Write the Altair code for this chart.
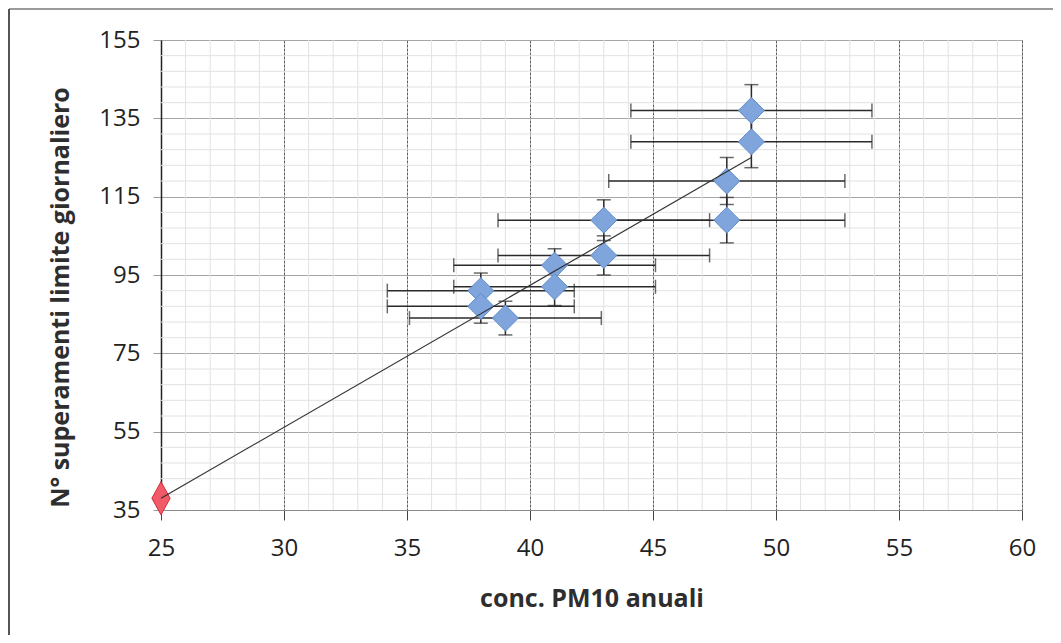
import altair as alt
import pandas as pd

# ---- data ----
x_vals = [49, 49, 48, 48, 43, 43, 41, 41, 38, 38, 39]
y_vals = [137, 129, 119, 109, 109, 100, 97.5, 92, 91, 87, 84]
x_err = [4.9, 4.9, 4.8, 4.8, 4.3, 4.3, 4.1, 4.1, 3.8, 3.8, 3.9]
y_err = [6.6, 6.6, 6.0, 5.8, 5.2, 5.0, 4.2, 4.8, 4.5, 4.3, 4.3]

ref_x = [25]
ref_y = [38]

trend_x = [25, 49]
trend_y = [38, 125]

x_ticks = [25, 30, 35, 40, 45, 50, 55, 60]
y_ticks = [35, 55, 75, 95, 115, 135, 155]
minor_x = [v for v in range(25, 61) if v not in x_ticks]
minor_y = [v for v in range(35, 156, 4) if v not in y_ticks]

X_TITLE = "conc. PM10 anuali"
Y_TITLE = "N° superamenti limite giornaliero"

pts = pd.DataFrame({"x": x_vals, "y": y_vals, "xe": x_err, "ye": y_err})
pts["xlo"] = pts["x"] - pts["xe"]
pts["xhi"] = pts["x"] + pts["xe"]
pts["ylo"] = pts["y"] - pts["ye"]
pts["yhi"] = pts["y"] + pts["ye"]

ref = pd.DataFrame({"x": ref_x, "y": ref_y})
trend = pd.DataFrame({"x": trend_x, "y": trend_y})
mx = pd.DataFrame({"x": minor_x})
my = pd.DataFrame({"y": minor_y})

FONT = "Open Sans"
W, H = 861, 470

xscale = alt.Scale(domain=[25, 60], nice=False, zero=False)
yscale = alt.Scale(domain=[35, 155], nice=False, zero=False)

xaxis = alt.Axis(
    values=x_ticks, grid=True, gridColor="#5e5e5e", gridWidth=1, gridDash=[3, 1],
    domainColor="#8a8a8a", domainWidth=1, tickColor="#444", tickSize=10,
    labelFont=FONT, labelFontSize=24, labelColor="#222", labelPadding=28,
    labelBaseline="middle", labelFlush=False,
    titleFont=FONT, titleFontSize=25, titleFontWeight="bold", titleColor="#2e2e2e",
    titleX=W / 2, titleY=88, titleBaseline="middle", titleAnchor="middle",
)
yaxis = alt.Axis(
    values=y_ticks, grid=True, gridColor="#a5a5a5", gridWidth=1,
    domainColor="#222", domainWidth=1.5, tickColor="#9a9a9a", tickSize=8,
    labelFont=FONT, labelFontSize=24, labelColor="#222", labelPadding=13,
    labelFlush=False,
    titleFont=FONT, titleFontSize=25, titleFontWeight="bold", titleColor="#2e2e2e",
    titleX=-101, titleY=257, titleBaseline="middle", titleAngle=270,
)


def X(field):
    return alt.X(field, type="quantitative", scale=xscale, axis=xaxis, title=X_TITLE)


def Y(field):
    return alt.Y(field, type="quantitative", scale=yscale, axis=yaxis, title=Y_TITLE)


minor_x_layer = alt.Chart(mx).mark_rule(color="#e2e2e2", strokeWidth=1).encode(x=X("x"))
minor_y_layer = alt.Chart(my).mark_rule(color="#e2e2e2", strokeWidth=1).encode(y=Y("y"))

ERR = "#2a2a2a"
hbar = alt.Chart(pts).mark_rule(color=ERR, strokeWidth=1.5).encode(
    x=X("xlo"), x2="xhi", y=Y("y"))
vbar = alt.Chart(pts).mark_rule(color=ERR, strokeWidth=1.5).encode(
    x=X("x"), y=Y("ylo"), y2="yhi")
cap_l = alt.Chart(pts).mark_tick(color=ERR, orient="vertical", size=14, thickness=1.5).encode(
    x=X("xlo"), y=Y("y"))
cap_r = alt.Chart(pts).mark_tick(color=ERR, orient="vertical", size=14, thickness=1.5).encode(
    x=X("xhi"), y=Y("y"))
cap_b = alt.Chart(pts).mark_tick(color=ERR, orient="horizontal", size=14, thickness=1.5).encode(
    x=X("x"), y=Y("ylo"))
cap_t = alt.Chart(pts).mark_tick(color=ERR, orient="horizontal", size=14, thickness=1.5).encode(
    x=X("x"), y=Y("yhi"))

diamonds = alt.Chart(pts).mark_point(
    shape="diamond", size=680, filled=True, fill="#7fa5dc", stroke="#5f8ccc",
    strokeWidth=1, opacity=1,
).encode(x=X("x"), y=Y("y"))

ref_pt = alt.Chart(ref).mark_point(
    shape="M0,-1L0.55,0L0,1L-0.55,0Z", size=1100, filled=True, fill="#f25a68",
    stroke="#d0283a", strokeWidth=1, opacity=1,
).encode(x=X("x"), y=Y("y"))

trend_line = alt.Chart(trend).mark_line(color="#333333", strokeWidth=1.2).encode(
    x=X("x"), y=Y("y"))

# decorative outer frame of the scanned figure
frame_top = alt.Chart(ref).mark_rule(color="#9a9a9a", strokeWidth=2).encode(
    x=alt.value(-152), x2=alt.value(900), y=alt.value(-31))
frame_left = alt.Chart(ref).mark_rule(color="#555555", strokeWidth=2).encode(
    x=alt.value(-152), y=alt.value(-31), y2=alt.value(610))

chart = alt.layer(
    minor_x_layer, minor_y_layer, hbar, vbar, cap_l, cap_r, cap_b, cap_t,
    diamonds, ref_pt, trend_line, frame_top, frame_left,
).properties(
    width=W, height=H,
    autosize=alt.AutoSizeParams(type="none"),
    padding={"left": 153, "top": 32, "right": 31, "bottom": 125},
).configure_view(stroke=None).configure(background="white")

chart.save("out.html", embed_options={"renderer": "svg", "actions": False})
